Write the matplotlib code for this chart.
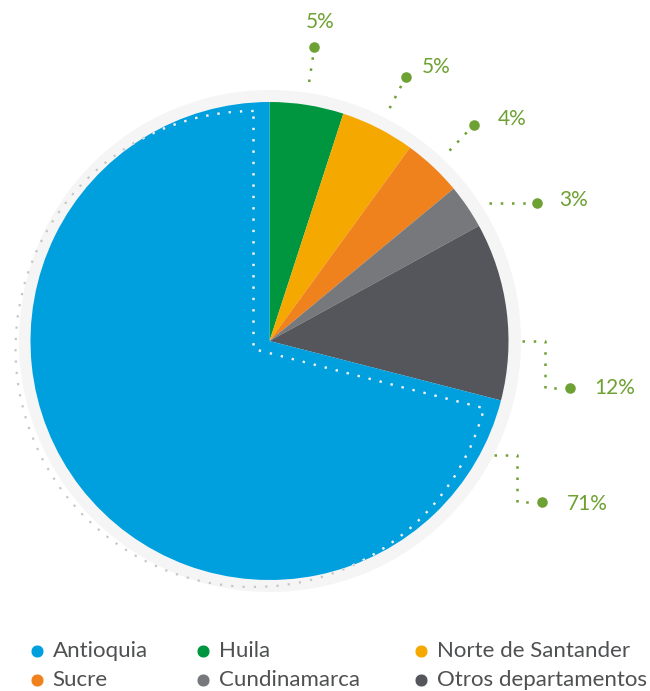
import numpy as np
import matplotlib
matplotlib.use("Agg")
import matplotlib.pyplot as plt
from matplotlib.patches import Circle, Wedge

# ---------------- data ----------------
categories = ["Huila", "Norte de Santander", "Sucre", "Cundinamarca",
              "Otros departamentos", "Antioquia"]
values = [5, 5, 4, 3, 12, 71]
colors = ["#009640", "#F5A800", "#F0821E", "#77787B", "#54565B", "#00A0DF"]
legend_order = ["Antioquia", "Huila", "Norte de Santander",
                "Sucre", "Cundinamarca", "Otros departamentos"]

# ---------------- layout ----------------
W, H = 650, 691
plt.rcParams['font.family'] = ['Lato', 'DejaVu Sans']
fig = plt.figure(figsize=(W / 100, H / 100), dpi=100)
ax = fig.add_axes([0, 0, 1, 1])

def Y(py):
    return H - py

cx, cy = 269.5, Y(341)
R = 239
green = "#6EA133"

# light gray background disc
ax.add_patch(Circle((cx + 0.5, cy), 251, color="#F5F5F5", zorder=0, lw=0))

wedges, _ = ax.pie(values, colors=colors, startangle=90, counterclock=False,
                   center=(cx, cy), radius=R, wedgeprops=dict(linewidth=0))
for w in wedges:
    w.set_zorder(2)

# dotted offset outline of the Antioquia slice
aw = wedges[-1]
shift = (-16, -8)
outline_kw = dict(fill=False, lw=1.6, linestyle=(0, (1, 4.1)), capstyle="butt")
o1 = Wedge((cx + shift[0], cy + shift[1]), 238, aw.theta1, aw.theta2,
           edgecolor="#C6C6C6", zorder=3, **outline_kw)
ax.add_patch(o1)
o2 = Wedge((cx + shift[0], cy + shift[1]), 238, aw.theta1, aw.theta2,
           edgecolor="#E8F3F9", zorder=4, **outline_kw)
ax.add_patch(o2)
o2.set_clip_path(aw)

# ---------------- percentage labels ----------------
leader_angle = [8.7, 27.3, 43.4, 57.8, 90, 117]   # degrees clockwise from top
leader_kind = ["radial", "radial", "radial", "horizontal", "elbow", "elbow"]
text_offset = [(6, 25), (16, 10), (24, 6), (22, 3), (25, 0), (25, -2)]
text_ha = ["center", "left", "left", "left", "left", "left"]

dot_kw = dict(linestyle=(0, (1, 3.5)), lw=1.8, color=green,
              solid_capstyle="butt", dash_capstyle="butt", zorder=5)

def pol(r, a):
    t = np.deg2rad(a)
    return cx + r * np.sin(t), cy + r * np.cos(t)

for v, a, kind, off, ha in zip(values, leader_angle, leader_kind,
                               text_offset, text_ha):
    if kind == "radial":
        x0, y0 = pol(262, a)
        x1, y1 = pol(289, a)
        dx, dy = pol(297, a)
        ax.plot([x0, x1], [y0, y1], **dot_kw)
    elif kind == "horizontal":
        x0, y0 = pol(259, a)
        ax.plot([x0, x0 + 40], [y0, y0], **dot_kw)
        dx, dy = x0 + 48, y0
    else:
        x0, y0 = pol(252, a)
        xs = [x0, x0 + 23, x0 + 23, x0 + 38]
        ys = [y0, y0, y0 - 47, y0 - 47]
        ax.plot(xs, ys, **dot_kw)
        dx, dy = x0 + 48, y0 - 47
    ax.plot([dx], [dy], marker="o", markersize=7.6, color=green,
            markeredgewidth=0, zorder=6)
    ax.text(dx + off[0], dy + off[1], f"{v}%", color=green, fontsize=15,
            ha=ha, va="center", zorder=6)

# ---------------- legend ----------------
leg_x = [36.7, 202.7, 420.7]
leg_y = [651, 680]
color_of = dict(zip(categories, colors))
for i, name in enumerate(legend_order):
    col, row = i % 3, i // 3
    x, y = leg_x[col], Y(leg_y[row])
    ax.plot([x], [y], marker="o", markersize=9.2, color=color_of[name],
            markeredgecolor="white", markeredgewidth=0.4, zorder=6)
    ax.text(x + 16, y, name, color="#4F5052", fontsize=16, ha="left",
            va="center", zorder=6)

ax.set_xlim(0, W)
ax.set_ylim(0, H)
ax.set_aspect("auto")
ax.axis("off")
fig.savefig("out.png", dpi=100)
